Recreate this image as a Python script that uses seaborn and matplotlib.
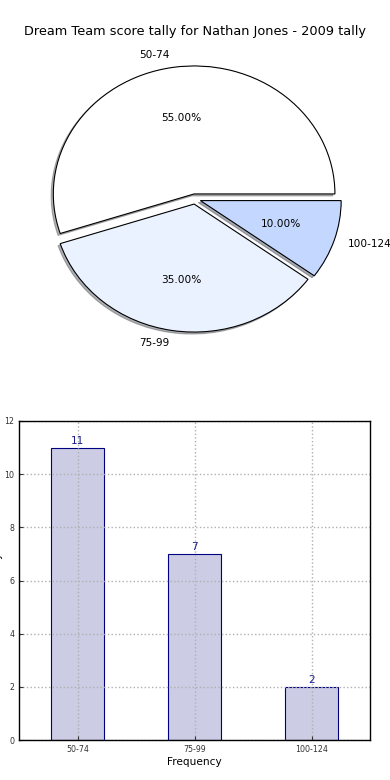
import matplotlib
matplotlib.use("Agg")
import matplotlib.pyplot as plt
import seaborn as sns
import numpy as np

categories = ["50-74", "75-99", "100-124"]
counts = [11, 7, 2]
pie_colors = ["#ffffff", "#ebf2ff", "#c4d8ff"]
title = "Dream Team score tally for Nathan Jones - 2009 tally"
y_ticks = [0, 2, 4, 6, 8, 10, 12]

fig = plt.figure(figsize=(3.9, 7.8), dpi=100)

# ---- pie ----
axp = fig.add_axes([19/390, 1 - 359/780, 352/390, 320/780])
wedges, texts, autotexts = axp.pie(
    counts, explode=[0.04] * 3, labels=categories, colors=pie_colors,
    autopct='%1.2f%%', shadow=dict(ox=-0.011, oy=-0.011, shade=0.6),
    startangle=0,
    wedgeprops=dict(edgecolor='black', linewidth=0.8),
    textprops=dict(fontsize=7.6))
axp.set_aspect('auto')
axp.set_xlim(-1.25, 1.25)
axp.set_ylim(-1.25, 1.25)
axp.set_title(title, fontsize=9.3, pad=3)

# ---- bars ----
axb = fig.add_axes([19/390, 40/780, 351/390, 319/780])
sns.barplot(x=categories, y=counts, ax=axb, width=0.45, color='navy')
for p in axb.patches:
    p.set_facecolor((0, 0, 0.5, 0.2))
    p.set_edgecolor('navy')
    p.set_linewidth(0.8)
for c in axb.containers:
    axb.bar_label(c, labels=[str(v) for v in counts], color='#1a1a8c',
                  fontsize=7.6, padding=1.5)
axb.set_xlim(-0.5, 2.5)
axb.set_ylim(0, 12)
axb.set_yticks(y_ticks)
axb.grid(True, linestyle=':', color='#b0b0b0', linewidth=1)
axb.tick_params(labelsize=5.7, direction='in', length=3, colors='#333333')
for s in axb.spines.values():
    s.set_color('black')
    s.set_linewidth(1)
axb.set_xlabel("Frequency", fontsize=7.6, labelpad=2)
axb.set_ylabel("Score Tally", fontsize=7.6)
axb.yaxis.set_label_coords(-0.046, 0.5)

fig.savefig("out.png", dpi=100)
